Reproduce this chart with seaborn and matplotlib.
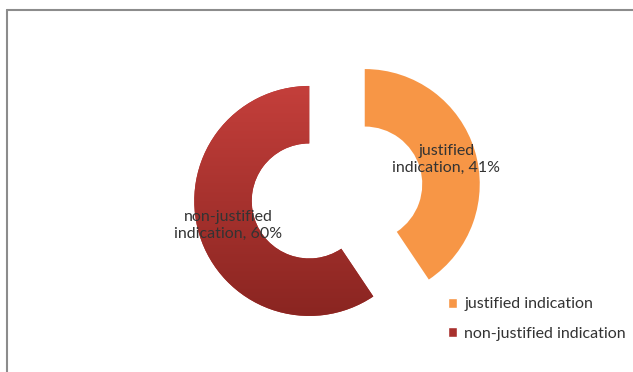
import numpy as np
import matplotlib
matplotlib.use("Agg")
import matplotlib.pyplot as plt
import seaborn as sns
from matplotlib.lines import Line2D
from matplotlib.patches import Patch
from matplotlib.colors import LinearSegmentedColormap

categories = ["justified indication", "non-justified indication"]
slice_labels = ["justified\nindication, 41%", "non-justified\nindication, 60%"]
values = [41, 60]
colors = ["#F79646", "#B03330"]

sns.set_style("white")
plt.rcParams['font.family'] = ['Lato', 'DejaVu Sans']

fig = plt.figure(figsize=(6.33, 3.72), dpi=100)
ax = fig.add_axes([0, 0, 1, 1])

cx, cy, R = 337, 179.5, 115
wedges, texts = ax.pie(values, colors=colors, startangle=90, counterclock=False,
                       radius=R, center=(cx, cy), explode=[29, 29],
                       labels=slice_labels, labeldistance=0.74,
                       textprops=dict(fontsize=11.5, color='#333333'),
                       wedgeprops=dict(width=0.5 * R, edgecolor='none'))
for t in texts:
    t.set_ha('center')
    t.set_va('center')
    t.set_multialignment('center')
    t.set_linespacing(1.25)
    t.set_zorder(5)

# vertical gradient on the red slice
red = wedges[1]
cmap = LinearSegmentedColormap.from_list('redgrad', ['#8A2521', '#C43F3B'])
grad = np.linspace(0, 1, 256).reshape(-1, 1)
ext = red.get_path().get_extents()
im = ax.imshow(grad, cmap=cmap, origin='lower', aspect='auto',
               extent=(ext.x0, ext.x1, ext.y0, ext.y1), zorder=2)
im.set_clip_path(red)

ax.set_xlim(0, 633)
ax.set_ylim(0, 372)
ax.set_aspect('equal')
ax.axis('off')

handles = [Patch(facecolor=colors[0]), Patch(facecolor='#A8302D')]
fig.legend(handles, categories, loc='upper left',
           bbox_to_anchor=(434 / 633, 1 - 283 / 372), frameon=False,
           handlelength=0.55, handleheight=0.55, handletextpad=0.45,
           labelspacing=0.95, fontsize=11.5, labelcolor='#333333')

fig.add_artist(Line2D([7.5 / 633, 1], [1 - 9.5 / 372] * 2, transform=fig.transFigure,
                      color='#8c8c8c', lw=1.5))
fig.add_artist(Line2D([7.5 / 633] * 2, [0, 1 - 9.5 / 372], transform=fig.transFigure,
                      color='#8c8c8c', lw=1.5))

fig.savefig('out.png', dpi=100)
